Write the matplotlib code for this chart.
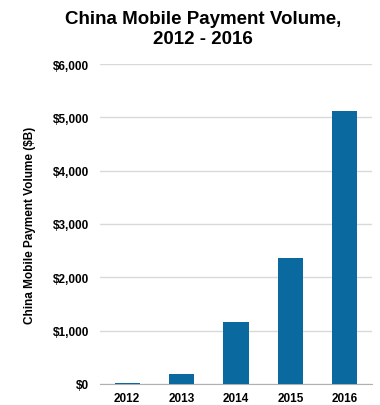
import numpy as np
import matplotlib.pyplot as plt

# data
years = ['2012', '2013', '2014', '2015', '2016']
volume = [20, 190, 1160, 2370, 5120]
yticks = [0, 1000, 2000, 3000, 4000, 5000, 6000]

plt.rcParams['font.family'] = ['Liberation Sans', 'DejaVu Sans']

fig = plt.figure(figsize=(3.8, 4.06), dpi=100)
ax = fig.add_axes([100/380, 21/406, 272/380, 320/406])

x = np.arange(len(years))
ax.bar(x, volume, width=0.46, color='#0a699e', zorder=3)

ax.set_xlim(-0.5, len(years) - 0.5)
ax.set_ylim(0, 6000)
ax.set_xticks(x)
ax.set_xticklabels(years, fontweight='bold', fontsize=8.5)
ax.set_yticks(yticks)
ax.set_yticklabels(['${:,}'.format(v) for v in yticks], fontweight='bold', fontsize=8.5)
ax.tick_params(length=0, pad=8)
ax.tick_params(axis='x', pad=6)

ax.grid(axis='y', color='#d9d9d9', linewidth=1, zorder=0)
for s in ['top', 'right', 'left']:
    ax.spines[s].set_visible(False)
ax.spines['bottom'].set_color('#b0b0b0')

ax.set_ylabel('China Mobile Payment Volume ($B)', fontweight='bold', fontsize=8.5, labelpad=12)

fig.text(0.535, 0.972, 'China Mobile Payment Volume,\n2012 - 2016', ha='center', va='top',
         fontweight='bold', fontsize=13.5, linespacing=1.2)

fig.savefig('out.png', dpi=100)
